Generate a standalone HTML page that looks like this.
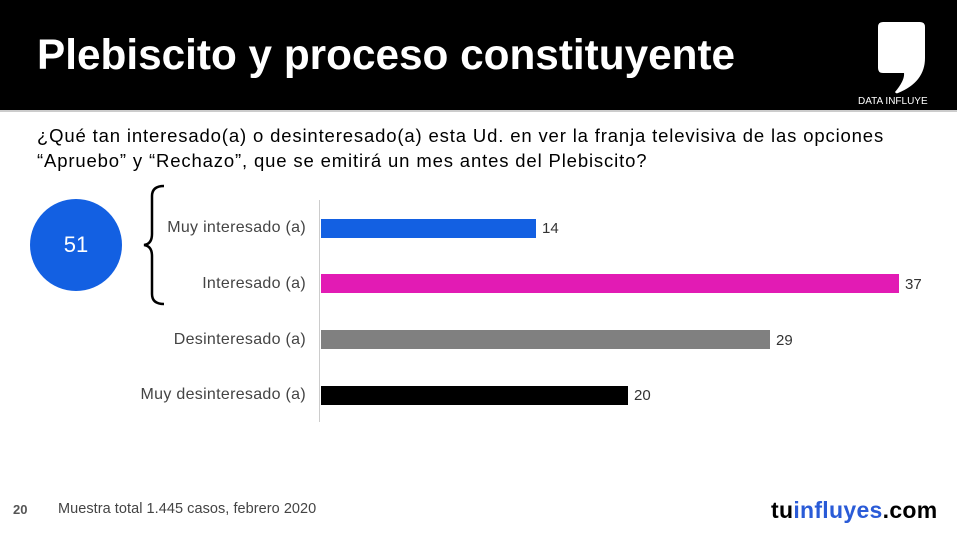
<!DOCTYPE html>
<html><head><meta charset="utf-8"><style>
body{margin:0;width:957px;height:534px;background:#fff;position:relative;overflow:hidden;font-family:"Liberation Sans",sans-serif}
div{position:absolute}
.lab{right:651px;font-size:16px;letter-spacing:0.3px;color:#444;text-align:right;white-space:nowrap}
.bar{left:321px;height:19px}
.val{font-size:15px;color:#333}
</style></head><body>
<div style="left:0;top:0;width:957px;height:110px;background:#000"></div>
<div style="left:0;top:110px;width:957px;height:2px;background:#ccc"></div>
<div style="left:37px;top:31px;font-size:42.3px;font-weight:bold;color:#fff;white-space:nowrap">Plebiscito y proceso constituyente</div>
<svg style="position:absolute;left:870px;top:20px" width="60" height="75" viewBox="0 0 60 75"><path d="M10 2 H50 Q55 2 55 7 V38 Q55 62 28 73 Q26 74 25 72 Q35 60 34 53 H13 Q8 53 8 48 V7 Q8 2 13 2Z" fill="#fff"/></svg>
<div style="left:858px;top:96px;font-size:10px;color:#fff">DATA INFLUYE</div>
<div style="left:37px;top:123px;font-size:18.5px;letter-spacing:0.85px;color:#000;line-height:25px;white-space:nowrap">¿Qué tan interesado(a) o desinteresado(a) esta Ud. en ver la franja televisiva de las opciones<br>“Apruebo” y “Rechazo”, que se emitirá un mes antes del Plebiscito?</div>
<div style="left:30px;top:199px;width:92px;height:92px;border-radius:50%;background:#1360e2;color:#fff;font-size:22px;text-align:center;line-height:92px">51</div>
<svg style="position:absolute;left:140px;top:184px" width="30" height="122"><path d="M24 2 Q12 2 12 12 V50 Q12 60 4 61 Q12 62 12 72 V110 Q12 120 24 120" fill="none" stroke="#000" stroke-width="2.5"/></svg>
<div style="left:319px;top:200px;width:1px;height:222px;background:#ccc"></div>
<div class="lab" style="top:219px">Muy interesado (a)</div>
<div class="lab" style="top:275px">Interesado (a)</div>
<div class="lab" style="top:331px">Desinteresado (a)</div>
<div class="lab" style="top:386px">Muy desinteresado (a)</div>
<div class="bar" style="top:219px;width:215px;background:#1360e2"></div>
<div class="bar" style="top:274px;width:578px;background:#e21bb4"></div>
<div class="bar" style="top:330px;width:449px;background:#808080"></div>
<div class="bar" style="top:386px;width:307px;background:#000"></div>
<div class="val" style="left:542px;top:220px">14</div>
<div class="val" style="left:905px;top:276px">37</div>
<div class="val" style="left:776px;top:332px">29</div>
<div class="val" style="left:634px;top:387px">20</div>
<div style="left:13px;top:502px;font-size:13px;font-weight:bold;color:#555">20</div>
<div style="left:58px;top:501px;font-size:14.5px;letter-spacing:0.05px;color:#444">Muestra total 1.445 casos, febrero 2020</div>
<div style="left:771px;top:497px;font-size:23px;font-weight:bold;color:#000;letter-spacing:0.3px">tu<span style="color:#2a5bd7">influyes</span>.com</div>
</body></html>
